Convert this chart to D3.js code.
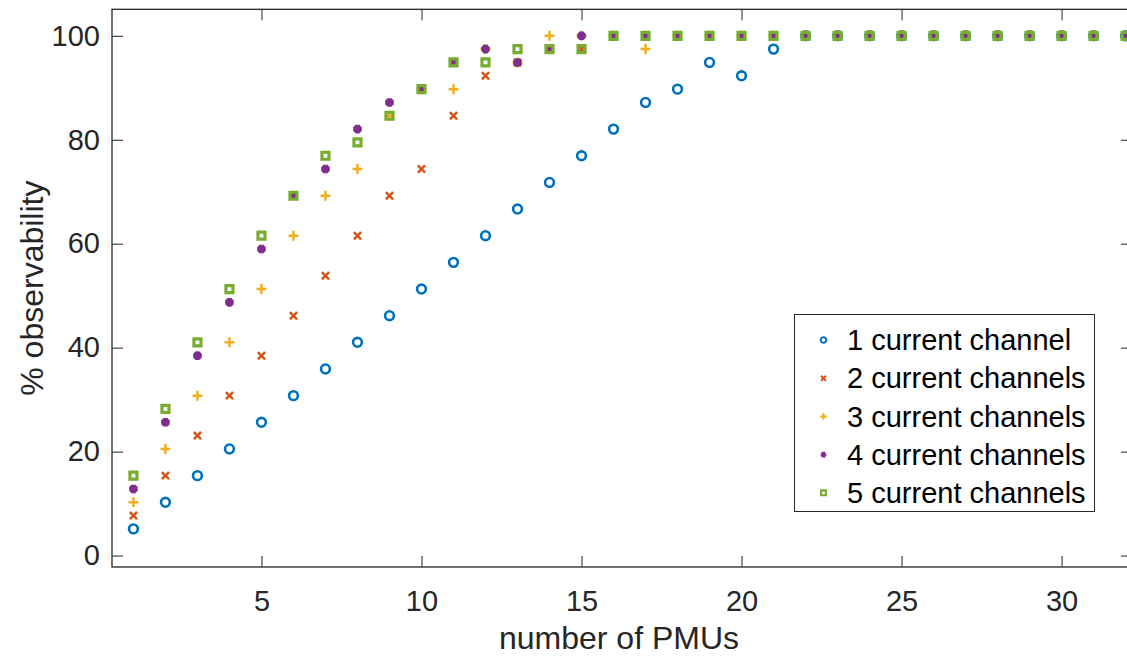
<!DOCTYPE html>
<html>
<head>
<meta charset="utf-8">
<script src="https://cdn.jsdelivr.net/npm/d3@7"></script>
<style>
  html, body { margin: 0; padding: 0; background: #fff; }
  svg { display: block; font-family: "Liberation Sans", Arial, Helvetica, sans-serif; }
</style>
</head>
<body>
<svg id="chart" width="1127" height="660"></svg>
<script>
// Number of PMUs placed (x) and resulting observability in percent (y)
const pmuCounts = d3.range(1, 33);

const oneChannel = [5.13, 10.26, 15.38, 20.51, 25.64, 30.77, 35.90, 41.03, 46.15, 51.28,
  56.41, 61.54, 66.67, 71.79, 76.92, 82.05, 87.18, 89.74, 94.87, 92.31,
  97.44, 100, 100, 100, 100, 100, 100, 100, 100, 100, 100, 100];

const twoChannels = [7.69, 15.38, 23.08, 30.77, 38.46, 46.15, 53.85, 61.54, 69.23, 74.36,
  84.62, 92.31, 94.87, 97.44, 97.44, 100, 100, 100, 100, 100,
  100, 100, 100, 100, 100, 100, 100, 100, 100, 100, 100, 100];

const threeChannels = [10.26, 20.51, 30.77, 41.03, 51.28, 61.54, 69.23, 74.36, 84.62, 89.74,
  89.74, 97.44, 94.87, 100, 100, 100, 97.44, 100, 100, 100,
  100, 100, 100, 100, 100, 100, 100, 100, 100, 100, 100, 100];

const fourChannels = [12.82, 25.64, 38.46, 48.72, 58.97, 69.23, 74.36, 82.05, 87.18, 89.74,
  94.87, 97.44, 94.87, 97.44, 100, 100, 100, 100, 100, 100,
  100, 100, 100, 100, 100, 100, 100, 100, 100, 100, 100, 100];

const fiveChannels = [15.38, 28.21, 41.03, 51.28, 61.54, 69.23, 76.92, 79.49, 84.62, 89.74,
  94.87, 94.87, 97.44, 97.44, 97.44, 100, 100, 100, 100, 100,
  100, 100, 100, 100, 100, 100, 100, 100, 100, 100, 100, 100];

const seriesNames = ["1 current channel", "2 current channels", "3 current channels",
  "4 current channels", "5 current channels"];
const seriesColors = ["#0072BD", "#D95319", "#EDB120", "#7E2F8E", "#77AC30"];

const xTicks = [5, 10, 15, 20, 25, 30];
const yTicks = [0, 20, 40, 60, 80, 100];

// Marker shapes as d3.symbol types; "size" is used as a half-width in px
const ring = { draw(c, s) { c.moveTo(s, 0); c.arc(0, 0, s, 0, 2 * Math.PI); } };
const times = { draw(c, s) { c.moveTo(-s, -s); c.lineTo(s, s); c.moveTo(s, -s); c.lineTo(-s, s); } };
const plus = { draw(c, s) { c.moveTo(-s, 0); c.lineTo(s, 0); c.moveTo(0, -s); c.lineTo(0, s); } };
const star = { draw(c, s) {
  const d = s * 0.72;
  c.moveTo(-s, 0); c.lineTo(s, 0); c.moveTo(0, -s); c.lineTo(0, s);
  c.moveTo(-d, -d); c.lineTo(d, d); c.moveTo(d, -d); c.lineTo(-d, d);
} };
const square = { draw(c, s) { c.rect(-s, -s, 2 * s, 2 * s); } };

const series = [
  { name: seriesNames[0], values: oneChannel,    color: seriesColors[0], type: ring,   size: 4.4, lw: 2.6, lsize: 2.8, llw: 1.9 },
  { name: seriesNames[1], values: twoChannels,   color: seriesColors[1], type: times,  size: 3.6, lw: 2.5, lsize: 2.5, llw: 2.0 },
  { name: seriesNames[2], values: threeChannels, color: seriesColors[2], type: plus,   size: 5.0, lw: 2.5, lsize: 3.4, llw: 2.0 },
  { name: seriesNames[3], values: fourChannels,  color: seriesColors[3], type: star,   size: 4.3, lw: 4.0, lsize: 2.8, llw: 3.2 },
  { name: seriesNames[4], values: fiveChannels,  color: seriesColors[4], type: square, size: 3.5, lw: 3.2, lsize: 2.4, llw: 2.1 }
];

const svg = d3.select("#chart");
const axisColor = "#262626";
const tickFont = 29;
const titleFont = 32;

const x = d3.scaleLinear().domain([0.33, 32.2]).range([112, 1132]);
const y = d3.scaleLinear().domain([-2.2, 105.1]).range([567, 9.3]);
const [x0, x1] = x.range();
const [y0, y1] = y.range();

function styleAxis(g, showLabels) {
  g.select(".domain").remove();
  g.selectAll(".tick line").attr("stroke", axisColor).attr("stroke-width", 1);
  g.selectAll(".tick text")
    .attr("fill", axisColor)
    .style("font-size", tickFont + "px")
    .style("display", showLabels ? null : "none");
}

const tickLen = 11;
svg.append("g").attr("transform", `translate(0,${y0})`)
  .call(d3.axisBottom(x).tickValues(xTicks).tickSizeInner(-tickLen).tickSizeOuter(0).tickPadding(23))
  .call(g => styleAxis(g, true));
svg.append("g").attr("transform", `translate(0,${y1})`)
  .call(d3.axisTop(x).tickValues(xTicks).tickSizeInner(-tickLen).tickSizeOuter(0))
  .call(g => styleAxis(g, false));
svg.append("g").attr("transform", `translate(${x0},0)`)
  .call(d3.axisLeft(y).tickValues(yTicks).tickSizeInner(-tickLen).tickSizeOuter(0).tickPadding(12))
  .call(g => styleAxis(g, true));
svg.append("g").attr("transform", `translate(${x1},0)`)
  .call(d3.axisRight(y).tickValues(yTicks).tickSizeInner(-tickLen).tickSizeOuter(0))
  .call(g => styleAxis(g, false));

// Axes box
svg.append("rect")
  .attr("x", x0).attr("y", y1).attr("width", x1 - x0).attr("height", y0 - y1)
  .attr("fill", "none").attr("stroke", axisColor).attr("stroke-width", 1.3);

// Markers, drawn series by series so later series sit on top
const plot = svg.append("g");
series.forEach(s => {
  plot.append("g")
    .selectAll("path")
    .data(s.values.map((v, i) => [pmuCounts[i], v]))
    .join("path")
    .attr("transform", d => `translate(${x(d[0])},${y(d[1])})`)
    .attr("d", d3.symbol().type(s.type).size(s.size))
    .attr("fill", "none")
    .attr("stroke", s.color)
    .attr("stroke-width", s.lw);
});

// Axis titles
svg.append("text")
  .attr("x", (x0 + x1) / 2 - 3).attr("y", 649)
  .attr("text-anchor", "middle")
  .attr("fill", axisColor)
  .style("font-size", titleFont + "px")
  .text("number of PMUs");
svg.append("text")
  .attr("transform", `translate(43,${(y0 + y1) / 2}) rotate(-90)`)
  .attr("text-anchor", "middle")
  .attr("fill", axisColor)
  .style("font-size", titleFont + "px")
  .text("% observability");

// Legend
const legend = svg.append("g");
legend.append("rect")
  .attr("x", 794.5).attr("y", 314.5).attr("width", 300).attr("height", 197)
  .attr("fill", "#fff").attr("stroke", axisColor).attr("stroke-width", 1);
series.forEach((s, i) => {
  const cy = 340 + i * 38.2;
  legend.append("path")
    .attr("transform", `translate(823.5,${cy})`)
    .attr("d", d3.symbol().type(s.type).size(s.lsize))
    .attr("fill", "none").attr("stroke", s.color).attr("stroke-width", s.llw);
  legend.append("text")
    .attr("x", 847).attr("y", cy).attr("dy", "0.35em")
    .attr("fill", "#000")
    .style("font-size", tickFont + "px")
    .text(s.name);
});
</script>
</body>
</html>
